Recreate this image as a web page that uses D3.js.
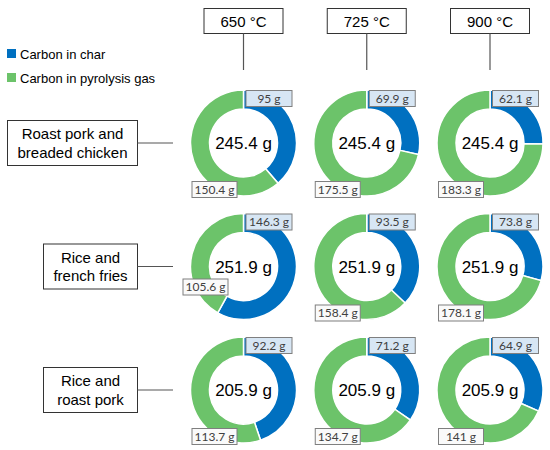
<!DOCTYPE html>
<html><head><meta charset="utf-8">
<script src="https://cdn.jsdelivr.net/npm/d3@7"></script>
<style>body{margin:0;background:#fff}svg{display:block}</style>
</head><body>
<svg id="chart" width="550" height="450"></svg>
<script>
const temperatures = ["650 °C", "725 °C", "900 °C"];
const meals = [["Roast pork and", "breaded chicken"], ["Rice and", "french fries"], ["Rice and", "roast pork"]];
const seriesNames = ["Carbon in char", "Carbon in pyrolysis gas"];
const charCarbon = [[95, 69.9, 62.1], [146.3, 93.5, 73.8], [92.2, 71.2, 64.9]];
const gasCarbon = [[150.4, 175.5, 183.3], [105.6, 158.4, 178.1], [113.7, 134.7, 141]];
const totals = [245.4, 251.9, 205.9];

const colors = ["#0070c0", "#6cc36a"];
const svg = d3.select("#chart");
const x = d3.scalePoint().domain(temperatures).range([243.5, 490]);
const y = d3.scalePoint().domain(d3.range(meals.length)).range([143, 390]);
const rOut = 53, rIn = 34;
const arc = d3.arc().innerRadius(rIn).outerRadius(rOut);
const pie = d3.pie().sort(null).value(d => d);
const fmt = v => v + " g";
const labelFont = "Lato, 'Open Sans', sans-serif";

// legend
const leg = svg.append("g");
seriesNames.forEach((s, i) => {
  const yy = 49 + i * 24;
  leg.append("rect").attr("x", 7).attr("y", yy).attr("width", 9).attr("height", 9).attr("fill", colors[i]);
  leg.append("text").attr("x", 20).attr("y", yy + 9.5).attr("font-family", "Arial, 'Liberation Sans', sans-serif")
    .attr("font-size", 13).attr("fill", "#000").text(s);
});

// column headers
temperatures.forEach(t => {
  const cx = x(t);
  svg.append("rect").attr("x", cx - 39.5).attr("y", 8.5).attr("width", 79).attr("height", 25)
    .attr("fill", "#fff").attr("stroke", "#333").attr("stroke-width", 1);
  svg.append("line").attr("x1", cx).attr("x2", cx).attr("y1", 33.5).attr("y2", 70)
    .attr("stroke", "#555").attr("stroke-width", 1.2);
  svg.append("text").attr("x", cx).attr("y", 26.5).attr("text-anchor", "middle")
    .attr("font-family", "Arial, 'Liberation Sans', sans-serif").attr("font-size", 15).text(t);
});

// row labels
meals.forEach((m, i) => {
  const cy = y(i);
  const w = i === 0 ? 130 : 94;
  const right = 137;
  svg.append("rect").attr("x", right - w + 0.5).attr("y", cy - 22.5).attr("width", w).attr("height", 45)
    .attr("fill", "#fff").attr("stroke", "#333").attr("stroke-width", 1);
  svg.append("line").attr("x1", right + 0.5).attr("x2", 173).attr("y1", cy).attr("y2", cy)
    .attr("stroke", "#555").attr("stroke-width", 1.2);
  const tx = svg.append("text").attr("text-anchor", "middle")
    .attr("font-family", "Arial, 'Liberation Sans', sans-serif").attr("font-size", 15);
  m.forEach((line, k) => {
    tx.append("tspan").attr("x", right - w / 2 + 0.5).attr("y", cy - 4 + k * 18.5).text(line);
  });
});

// donuts
meals.forEach((m, i) => {
  temperatures.forEach((t, j) => {
    const cx = x(t), cy = y(i);
    const g = svg.append("g").attr("transform", `translate(${cx},${cy})`);
    const arcs = pie([charCarbon[i][j], gasCarbon[i][j]]);
    g.selectAll("path").data(arcs).join("path")
      .attr("d", arc).attr("fill", (d, k) => colors[k])
      .attr("stroke", "#fff").attr("stroke-width", 1.5);
    g.append("text").attr("x", 0).attr("y", 6).attr("text-anchor", "middle")
      .attr("font-family", "Arial, 'Liberation Sans', sans-serif").attr("font-size", 17).attr("fill", "#000")
      .text(fmt(totals[i]));

    // char label
    const bw = 46, bh = 16;
    g.append("rect").attr("x", 2.5).attr("y", -rOut + 0.5).attr("width", bw).attr("height", bh)
      .attr("fill", "#d7e6f4").attr("stroke", "#7f7f7f").attr("stroke-width", 1);
    g.append("text").attr("x", 2.5 + bw / 2).attr("y", -rOut + 12.5).attr("text-anchor", "middle")
      .attr("font-family", labelFont).attr("font-size", 12).attr("fill", "#404040")
      .text(fmt(charCarbon[i][j]));

    // gas label: placed by arc midpoint
    const gasArc = arcs[1];
    const mid = (gasArc.startAngle + gasArc.endAngle) / 2;
    let lx, ly;
    if (mid <= 1.5 * Math.PI) { lx = -52; ly = 38; } else { lx = -61; ly = 12; }
    g.append("rect").attr("x", lx + 0.5).attr("y", ly + 0.5).attr("width", bw - 1).attr("height", bh)
      .attr("fill", "#fafafa").attr("stroke", "#7f7f7f").attr("stroke-width", 1);
    g.append("text").attr("x", lx + bw / 2).attr("y", ly + 12.5).attr("text-anchor", "middle")
      .attr("font-family", labelFont).attr("font-size", 12).attr("fill", "#404040")
      .text(fmt(gasCarbon[i][j]));
  });
});
</script>
</body></html>
